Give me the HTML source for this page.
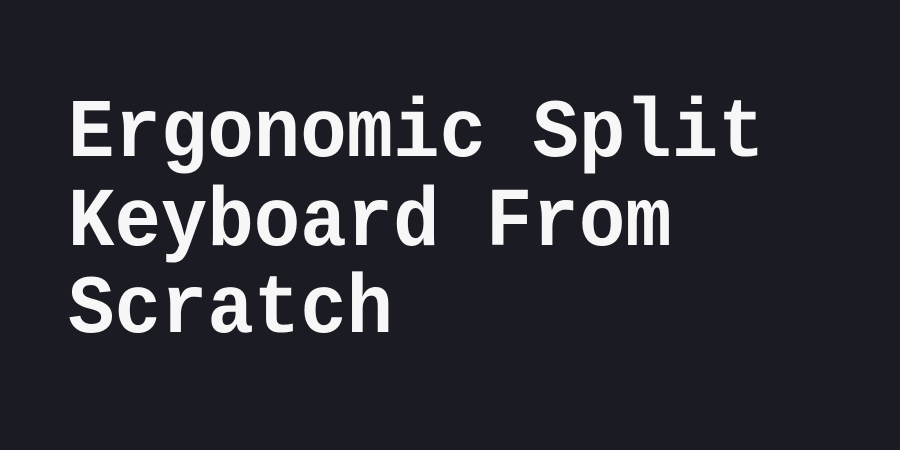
<!DOCTYPE html>
<html><head><style>
html,body{margin:0;padding:0;}
body{width:900px;height:450px;background:#1b1b23;position:relative;overflow:hidden;}
.l{position:absolute;left:68px;font-family:"Liberation Mono",monospace;font-weight:bold;font-size:77px;line-height:77px;color:#f7f7f7;white-space:pre;transform:scale(1.005,1.09);transform-origin:0 59px;}
</style></head><body>
<div class="l" style="top:98px">Ergonomic Split</div>
<div class="l" style="top:187px">Keyboard From</div>
<div class="l" style="top:274px">Scratch</div>
</body></html>
